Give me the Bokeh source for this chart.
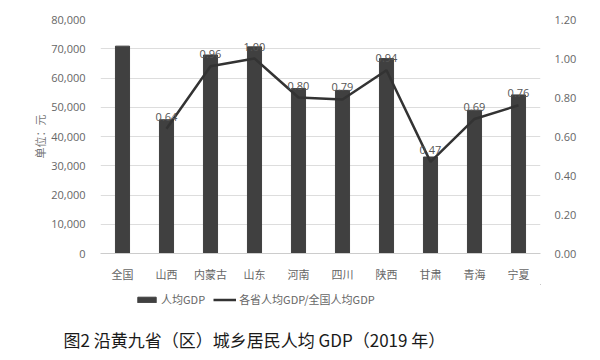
from bokeh.plotting import figure
from bokeh.layouts import column
from bokeh.models import (ColumnDataSource, Range1d, LinearAxis, NumeralTickFormatter,
                          Legend, LegendItem, Title, FactorRange)
from bokeh.core.properties import value
from bokeh.embed import file_html
from bokeh.resources import INLINE

regions = ["全国", "山西", "内蒙古", "山东", "河南", "四川", "陕西", "甘肃", "青海", "宁夏"]
gdp = [70892, 45724, 67852, 70653, 56388, 55774, 66649, 32995, 48981, 54217]
ratio_regions = ["山西", "内蒙古", "山东", "河南", "四川", "陕西", "甘肃", "青海", "宁夏"]
ratio = [0.64, 0.96, 1.00, 0.80, 0.79, 0.94, 0.47, 0.69, 0.76]
legend_labels = ["人均GDP", "各省人均GDP/全国人均GDP"]
chart_title = "图2   沿黄九省（区）城乡居民人均 GDP（2019 年）"

FONT = "Noto Sans CJK SC"
BAR_C = "#404040"
LINE_C = "#333333"

p = figure(frame_width=440, frame_height=234, x_range=FactorRange(*regions), y_range=Range1d(0, 80000),
           output_backend="svg", toolbar_location=None,
           min_border_left=100, min_border_right=44, min_border_top=19, min_border_bottom=30)
p.extra_y_ranges = {"r": Range1d(0, 1.2)}
p.outline_line_color = None

p.vbar(x=regions, top=gdp, width=0.32, color=BAR_C)
src = ColumnDataSource(dict(x=ratio_regions, y=ratio, t=["%.2f" % v for v in ratio]))
p.line(x="x", y="y", source=src, y_range_name="r", line_color=LINE_C, line_width=2.5)
p.text(x="x", y="y", text="t", source=src, y_range_name="r", y_offset=-8,
       text_align="center", text_baseline="bottom", text_font_size="11px",
       text_color="#555555", text_font=value("Open Sans"))

ya = p.yaxis[0]
ya.ticker = list(range(0, 80001, 10000))
ya.formatter = NumeralTickFormatter(format="0,0")
ya.axis_label = "单位：元"
ya.axis_label_text_font = FONT
ya.axis_label_text_font_style = "normal"
ya.axis_label_text_font_size = "11px"
ya.axis_label_text_color = "#777777"
ya.axis_label_standoff = 0

ra = LinearAxis(y_range_name="r", ticker=[0, 0.2, 0.4, 0.6, 0.8, 1.0, 1.2],
                formatter=NumeralTickFormatter(format="0.00"))
p.add_layout(ra, "right")

for ax in (ya, ra):
    ax.axis_line_color = None
    ax.major_tick_line_color = None
    ax.minor_tick_line_color = None
    ax.major_label_text_font_size = "11px"
    ax.major_label_text_color = "#666666"
    ax.major_label_text_font = "Open Sans"
ya.major_label_standoff = 9
ra.major_label_standoff = 8

xa = p.xaxis[0]
xa.axis_line_color = "#cccccc"
xa.major_tick_line_color = None
xa.minor_tick_line_color = None
xa.major_label_text_font = FONT
xa.major_label_text_font_size = "11px"
xa.major_label_text_color = "#666666"
xa.major_label_standoff = 6

p.xgrid.grid_line_color = None
p.ygrid.grid_line_color = "#dddddd"
p.ygrid.ticker = list(range(0, 80001, 10000))

# legend + caption panel (legend proxies sit outside the visible range)
p2 = figure(frame_width=440, frame_height=30, x_range=Range1d(0, 1), y_range=Range1d(0, 1),
            output_backend="svg", toolbar_location=None,
            x_axis_location=None, y_axis_location=None,
            min_border_left=100, min_border_right=44, min_border_top=0, min_border_bottom=6)
p2.outline_line_color = None
p2.grid.grid_line_color = None
r1 = p2.vbar(x=[5], top=[6], bottom=[5], width=0.3, color=BAR_C)
r2 = p2.line(x=[5, 6], y=[5, 5], line_color=LINE_C, line_width=2.5)

legend = Legend(items=[LegendItem(label=legend_labels[0], renderers=[r1]),
                       LegendItem(label=legend_labels[1], renderers=[r2])],
                orientation="horizontal", location=(35, 7),
                label_text_font=FONT, label_text_font_size="11px", label_text_color="#666666",
                glyph_width=23, glyph_height=7, spacing=8, label_standoff=3,
                border_line_color=None, background_fill_alpha=0,
                margin=0, padding=4)
p2.add_layout(legend, "center")

p2.add_layout(Title(text=chart_title, align="left", offset=-37,
                    standoff=21, text_font=FONT, text_font_size="17px", text_font_style="normal",
                    text_color="#1a1a1a"), "below")

open("out.html", "w").write(file_html(column(p, p2), INLINE))
